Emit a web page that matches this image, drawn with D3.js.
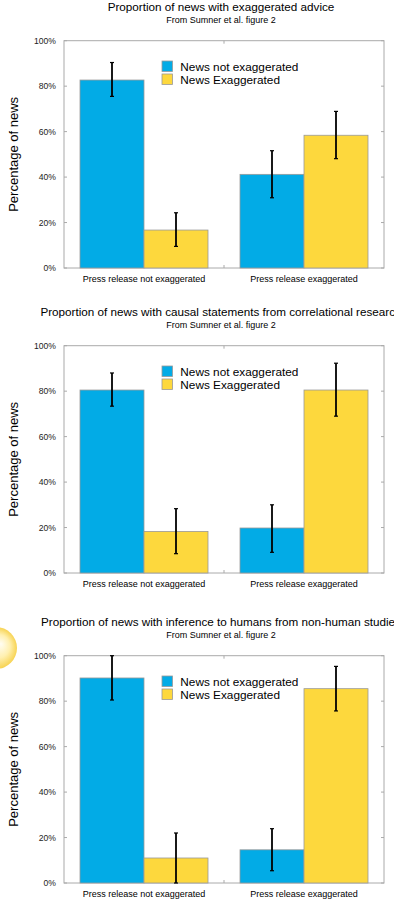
<!DOCTYPE html>
<html>
<head>
<meta charset="utf-8">
<script src="https://cdn.jsdelivr.net/npm/d3@7"></script>
<style>
  body { margin: 0; background: #fff; }
  svg { display: block; font-family: "Liberation Sans", Arial, sans-serif; }
</style>
</head>
<body>
<div class="chart"></div>
<script>
// data (percent)
const categories = ["Press release not exaggerated", "Press release exaggerated"];
const seriesNames = ["News not exaggerated", "News Exaggerated"];
const yTicks = [0, 20, 40, 60, 80, 100];
const subtitle = "From Sumner et al. figure 2";

const titles = [
  "Proportion of news with exaggerated advice",
  "Proportion of news with causal statements from correlational research",
  "Proportion of news with inference to humans from non-human studies"
];

const adviceNotExag = [82.7, 41.2];
const adviceExag = [16.7, 58.4];
const adviceNotExagErr = [[75.5, 90.4], [30.9, 51.6]];
const adviceExagErr = [[9.5, 24.3], [48.1, 68.9]];

const causalNotExag = [80.5, 19.8];
const causalExag = [18.3, 80.5];
const causalNotExagErr = [[73.4, 88.0], [9.1, 30.0]];
const causalExagErr = [[8.5, 28.3], [69.0, 92.3]];

const humanNotExag = [90.2, 14.6];
const humanExag = [11.0, 85.5];
const humanNotExagErr = [[80.5, 100], [5.4, 23.9]];
const humanExagErr = [[0, 22.0], [75.7, 95.3]];

const charts = [
  { title: titles[0], values: [adviceNotExag, adviceExag], errs: [adviceNotExagErr, adviceExagErr] },
  { title: titles[1], values: [causalNotExag, causalExag], errs: [causalNotExagErr, causalExagErr] },
  { title: titles[2], values: [humanNotExag, humanExag], errs: [humanNotExagErr, humanExagErr] }
];

const colors = ["#02abe6", "#fdd83d"];
const offsets = [0, 305, 615];

const width = 394, height = 900;
const plotLeft = 64, plotRight = 384, plotTop = 40.7, plotBottom = 268;

const svg = d3.select(".chart").append("svg")
  .attr("width", width)
  .attr("height", height);

// yellow ball on the left edge
const grad = svg.append("defs").append("radialGradient")
  .attr("id", "ball")
  .attr("cx", "50%").attr("cy", "50%").attr("r", "50%")
  .attr("fx", "62%").attr("fy", "40%");
grad.append("stop").attr("offset", "0%").attr("stop-color", "#fffdf2");
grad.append("stop").attr("offset", "55%").attr("stop-color", "#fff0b0");
grad.append("stop").attr("offset", "100%").attr("stop-color", "#f7d352");

const x = d3.scaleBand()
  .domain(categories)
  .range([plotLeft, plotRight])
  .paddingInner(0.2)
  .paddingOuter(0.1);

const xSub = d3.scaleBand()
  .domain(seriesNames)
  .range([0, x.bandwidth()]);

const y = d3.scaleLinear()
  .domain([0, 100])
  .range([plotBottom, plotTop]);

charts.forEach((c, ci) => {
  const g = svg.append("g").attr("transform", `translate(0,${offsets[ci]})`);

  g.append("text")
    .attr("x", 221).attr("y", 11)
    .attr("text-anchor", "middle")
    .attr("font-size", 11.7)
    .text(c.title);

  g.append("text")
    .attr("x", 221).attr("y", 22.5)
    .attr("text-anchor", "middle")
    .attr("font-size", 9)
    .text(subtitle);

  // frame
  g.append("rect")
    .attr("x", plotLeft).attr("y", plotTop)
    .attr("width", plotRight - plotLeft).attr("height", plotBottom - plotTop)
    .attr("fill", "none")
    .attr("stroke", "#aaa");

  // y ticks, inward on both sides
  g.selectAll(".tl").data(yTicks).join("line")
    .attr("x1", plotLeft).attr("x2", plotLeft + 3)
    .attr("y1", d => y(d)).attr("y2", d => y(d))
    .attr("stroke", "#aaa");
  g.selectAll(".tr").data(yTicks).join("line")
    .attr("x1", plotRight - 3).attr("x2", plotRight)
    .attr("y1", d => y(d)).attr("y2", d => y(d))
    .attr("stroke", "#aaa");

  g.selectAll(".ylab").data(yTicks).join("text")
    .attr("x", 56)
    .attr("y", d => y(d))
    .attr("dy", "0.35em")
    .attr("text-anchor", "end")
    .attr("font-size", 8.6)
    .attr("fill", "#222")
    .text(d => d + "%");

  // middle tick between groups
  const mid = (x(categories[0]) + x.bandwidth() + x(categories[1])) / 2;
  g.append("line").attr("x1", mid).attr("x2", mid).attr("y1", plotTop).attr("y2", plotTop + 3).attr("stroke", "#aaa");
  g.append("line").attr("x1", mid).attr("x2", mid).attr("y1", plotBottom - 3).attr("y2", plotBottom).attr("stroke", "#aaa");

  g.append("text")
    .attr("transform", `translate(18,${(plotTop + plotBottom) / 2}) rotate(-90)`)
    .attr("text-anchor", "middle")
    .attr("font-size", 13)
    .text("Percentage of news");

  // bars
  seriesNames.forEach((s, si) => {
    g.selectAll(".bar" + si).data(c.values[si]).join("rect")
      .attr("class", "bar" + si)
      .attr("x", (d, i) => x(categories[i]) + xSub(s))
      .attr("y", d => y(d))
      .attr("width", xSub.bandwidth())
      .attr("height", d => y(0) - y(d))
      .attr("fill", colors[si])
      .attr("stroke", "#999")
      .attr("stroke-width", 0.8);
  });

  // error bars
  seriesNames.forEach((s, si) => {
    c.errs[si].forEach((e, i) => {
      const cx = x(categories[i]) + xSub(s) + xSub.bandwidth() / 2;
      g.append("line")
        .attr("x1", cx).attr("x2", cx)
        .attr("y1", y(e[0])).attr("y2", y(e[1]))
        .attr("stroke", "#000").attr("stroke-width", 1.8);
      e.forEach(v => {
        g.append("line")
          .attr("x1", cx - 2).attr("x2", cx + 2)
          .attr("y1", y(v)).attr("y2", y(v))
          .attr("stroke", "#000").attr("stroke-width", 1.2);
      });
    });
  });

  // category labels
  g.selectAll(".cat").data(categories).join("text")
    .attr("x", d => x(d) + x.bandwidth() / 2)
    .attr("y", 281.5)
    .attr("text-anchor", "middle")
    .attr("font-size", 9)
    .text(d => d);

  // legend
  const lg = g.append("g");
  seriesNames.forEach((s, si) => {
    lg.append("rect")
      .attr("x", 162).attr("y", 61 + si * 13)
      .attr("width", 10.5).attr("height", 10.5)
      .attr("fill", colors[si])
      .attr("stroke", "#999")
      .attr("stroke-width", 0.8);
    lg.append("text")
      .attr("x", 180.3).attr("y", 71 + si * 13)
      .attr("font-size", 11.8)
      .text(s);
  });
});

svg.append("circle")
  .attr("cx", -4).attr("cy", 648).attr("r", 21)
  .attr("fill", "url(#ball)");
</script>
</body>
</html>
